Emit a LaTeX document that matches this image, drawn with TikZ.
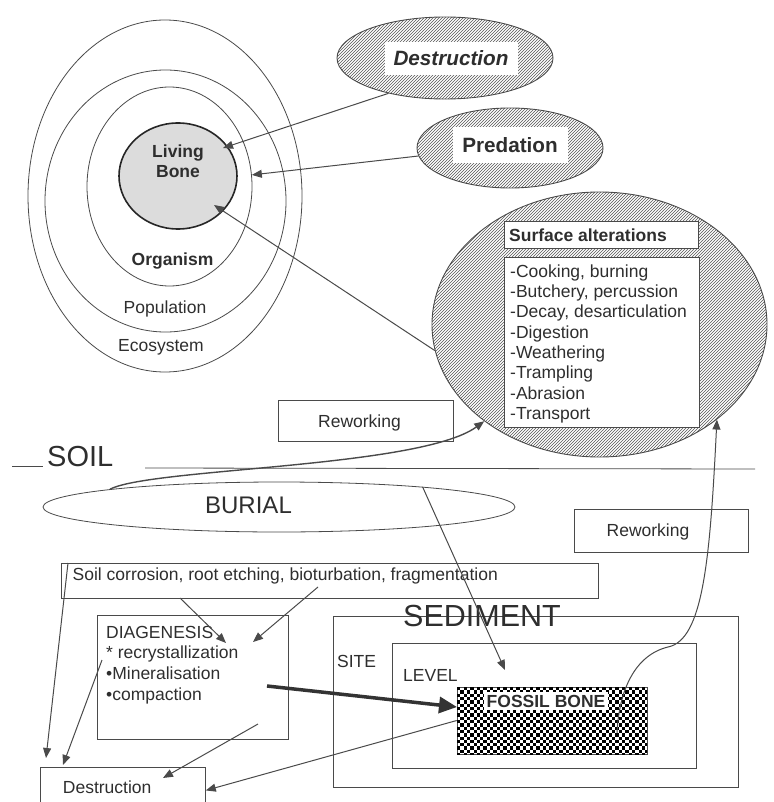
\documentclass[tikz,border=0pt]{standalone}
\usepackage{fontspec}
\setmainfont{Liberation Sans}
\usetikzlibrary{shapes.geometric,arrows.meta,patterns}

\definecolor{ink}{HTML}{2E2E2E}
\definecolor{wire}{HTML}{4A4A4A}
\definecolor{hatchc}{HTML}{555555}
\definecolor{bonegray}{HTML}{DCDCDC}

\begin{document}
\begin{tikzpicture}[x=1pt,y=-1pt,
  txt/.style={font=\fontsize{17.5}{20.5}\selectfont},
  boldtxt/.style={font=\fontsize{17.5}{20.5}\selectfont\bfseries},
  every node/.style={text=ink, txt},
  ring/.style={ellipse, draw=wire, line width=0.8pt, inner sep=0pt},
  hatched/.style={ellipse, draw=wire, line width=0.9pt, inner sep=0pt,
    pattern=north east lines, pattern color=hatchc},
  frame/.style={rectangle, draw=wire, line width=0.8pt, inner sep=0pt},
  lbl/.style={inner sep=0pt},
  link/.style={draw=wire, line width=1pt, -{Triangle[length=10pt,width=8pt]}},
  heavy/.style={draw=black!80, line width=3.5pt, -{Triangle[length=18pt,width=16pt]}},
]
\useasboundingbox (0,0) rectangle (773,802);
\clip (0,0) rectangle (773,802);

% ---------- levels of organisation ----------
\node[ring, minimum width=274pt, minimum height=352pt] (eco) at (165,196) {};
\node[ring, minimum width=241pt, minimum height=262pt] (pop) at (165.5,201) {};
\node[ring, minimum width=165pt, minimum height=199pt] (org) at (169.5,186.5) {};
\node[ellipse, draw=black!85, line width=1.6pt, fill=bonegray, inner sep=0pt,
      minimum width=118pt, minimum height=106pt] (bone) at (178,176) {};
\node[lbl, anchor=base, align=center, boldtxt] (bonetxt) at (178,178) {Living\\Bone};
\node[lbl, anchor=base, boldtxt] (orgtxt) at (172.5,265) {Organism};
\node[lbl, anchor=base] (poptxt) at (165,313) {Population};
\node[lbl, anchor=base] (ecotxt) at (161,351) {Ecosystem};

% ---------- agents ----------
\node[hatched, minimum width=216pt, minimum height=82pt] (dest) at (445,58) {};
\node[lbl, fill=white, minimum width=133pt, minimum height=33pt,
      font=\fontsize{20.7}{24}\selectfont\bfseries\itshape] (desttxt) at (451,58.5) {Destruction};
\node[hatched, minimum width=186pt, minimum height=80pt] (pred) at (510,148) {};
\node[lbl, fill=white, minimum width=115pt, minimum height=36pt,
      font=\fontsize{20.7}{24}\selectfont\bfseries] (predtxt) at (510,145) {Predation};

\node[hatched, minimum width=335pt, minimum height=265pt] (surf) at (599.5,324.5) {};
\node[frame, fill=white, minimum width=194pt, minimum height=27pt] (surfhead) at (601,234.5) {};
\node[lbl, anchor=base west, boldtxt] (surfheadtxt) at (509,241) {Surface alterations};
\node[frame, fill=white, minimum width=195pt, minimum height=170pt] (surflist) at (601.5,342) {};
% a multi-line node sits on the baseline of its last line
\node[lbl, anchor=base west, align=left, font=\fontsize{17.5}{20.3}\selectfont] (surflisttxt) at (510,419.4)
  {-Cooking, burning\\-Butchery, percussion\\-Decay, desarticulation\\-Digestion\\-Weathering\\-Trampling\\-Abrasion\\-Transport};

\node[frame, minimum width=175pt, minimum height=41pt] (rework1) at (365.5,421) {};
\node[lbl, anchor=base] (rework1txt) at (359.5,427) {Reworking};

% ---------- ground surface ----------
\draw[draw=wire, line width=0.8pt] (12,466) -- (43,466);
\node[lbl, anchor=base west, font=\fontsize{29}{34}\selectfont] (soil) at (47,466.5) {SOIL};
\draw[draw=wire, line width=0.8pt] (145,468) -- (755,469);

\node[ring, minimum width=472pt, minimum height=50pt] (burial) at (279,507) {};
\node[lbl, anchor=base, font=\fontsize{24}{28}\selectfont] (burialtxt) at (248.5,513) {BURIAL};

\node[frame, minimum width=174pt, minimum height=43pt] (rework2) at (661,530.5) {};
\node[lbl, anchor=base] (rework2txt) at (648,536) {Reworking};

% ---------- below ground ----------
\node[frame, minimum width=537pt, minimum height=35pt] (corr) at (329.5,580.5) {};
\node[lbl, anchor=base west] (corrtxt) at (72.5,580) {Soil corrosion, root etching, bioturbation, fragmentation};

\node[frame, minimum width=191pt, minimum height=124pt] (diag) at (192.5,677) {};
\node[lbl, anchor=base west, align=left, font=\fontsize{17.5}{20.7}\selectfont] (diagtxt) at (106,700.1)
  {DIAGENESIS\\* recrystallization\\•Mineralisation\\•compaction};

\node[frame, minimum width=165pt, minimum height=46pt, anchor=north west] (ruin) at (40,767) {};
\node[lbl, anchor=base west] (ruintxt) at (62.7,793) {Destruction};

\node[frame, minimum width=405pt, minimum height=171pt] (site) at (535.5,701.5) {};
\node[lbl, anchor=base west, font=\fontsize{30.5}{36}\selectfont] (sedtxt) at (403,626) {SEDIMENT};
\node[lbl, anchor=base west] (sitetxt) at (337,667) {SITE};
\node[frame, minimum width=304pt, minimum height=125pt] (level) at (544,705.5) {};
\node[lbl, anchor=base west] (leveltxt) at (403,681) {LEVEL};

% fossil bone: a block of small black and white squares
\node[rectangle, draw=black!70, line width=0.6pt, fill=white,
      minimum width=190pt, minimum height=67pt, inner sep=0pt] (fossil) at (552,720.5) {};
\begin{scope}
  \clip (457,687) rectangle (647,754);
  \foreach \i in {0,...,57}{
    \foreach \j in {0,...,10}{
      \pgfmathsetmacro{\cx}{457+\i*3.3}
      \pgfmathsetmacro{\cy}{687+(2*\j+mod(\i,2))*3.3}
      \fill[black] (\cx,\cy) rectangle ++(3.3,3.3);
    }
  }
\end{scope}
\node[lbl, fill=white, inner xsep=3pt, inner ysep=2.5pt, anchor=base, boldtxt] (fossiltxt) at (546,707) {FOSSIL BONE};

% ---------- connectors ----------
\coordinate (boneA) at (223,148);
\coordinate (boneB) at (214,205);
\draw[link] (dest.212) -- (boneA);
\draw[link] (pred.185) -- (org.8);
\draw[link] (surf.189) -- (boneB);
\draw[link, line width=1.4pt] (burial.174) .. controls (150,468) and (420,468) .. (surf.220);
\coordinate (levelhit) at (505,670);
\draw[link] (burial.8) -- (levelhit);
\coordinate (fossilroot) at (617,733);
\coordinate (fossilknee) at (668,647);
\draw[link] (fossilroot) .. controls (619,690) and (635,655) .. (fossilknee)
  .. controls (703,640) and (710,560) .. (surf.321);

\coordinate (corrL) at (68,563);
\coordinate (ruinNW) at (46,758);
\draw[link] (corrL) -- (ruinNW);
\coordinate (corrM) at (180,598);
\coordinate (diagA) at (226,643);
\draw[link] (corrM) -- (diagA);
\coordinate (corrR) at (318,587);
\coordinate (diagB) at (253,642);
\draw[link] (corrR) -- (diagB);
\coordinate (diagL) at (102,660);
\coordinate (ruinA) at (63,765);
\draw[link] (diagL) -- (ruinA);
\coordinate (diagR) at (258,724);
\coordinate (ruinB) at (163,778);
\draw[link] (diagR) -- (ruinB);
\draw[link] (fossil.west) -- (ruin.east);
\coordinate (diagOut) at (267,686);
\coordinate (fossilIn) at (457,707);
\draw[heavy] (diagOut) -- (fossilIn);
\end{tikzpicture}
\end{document}
